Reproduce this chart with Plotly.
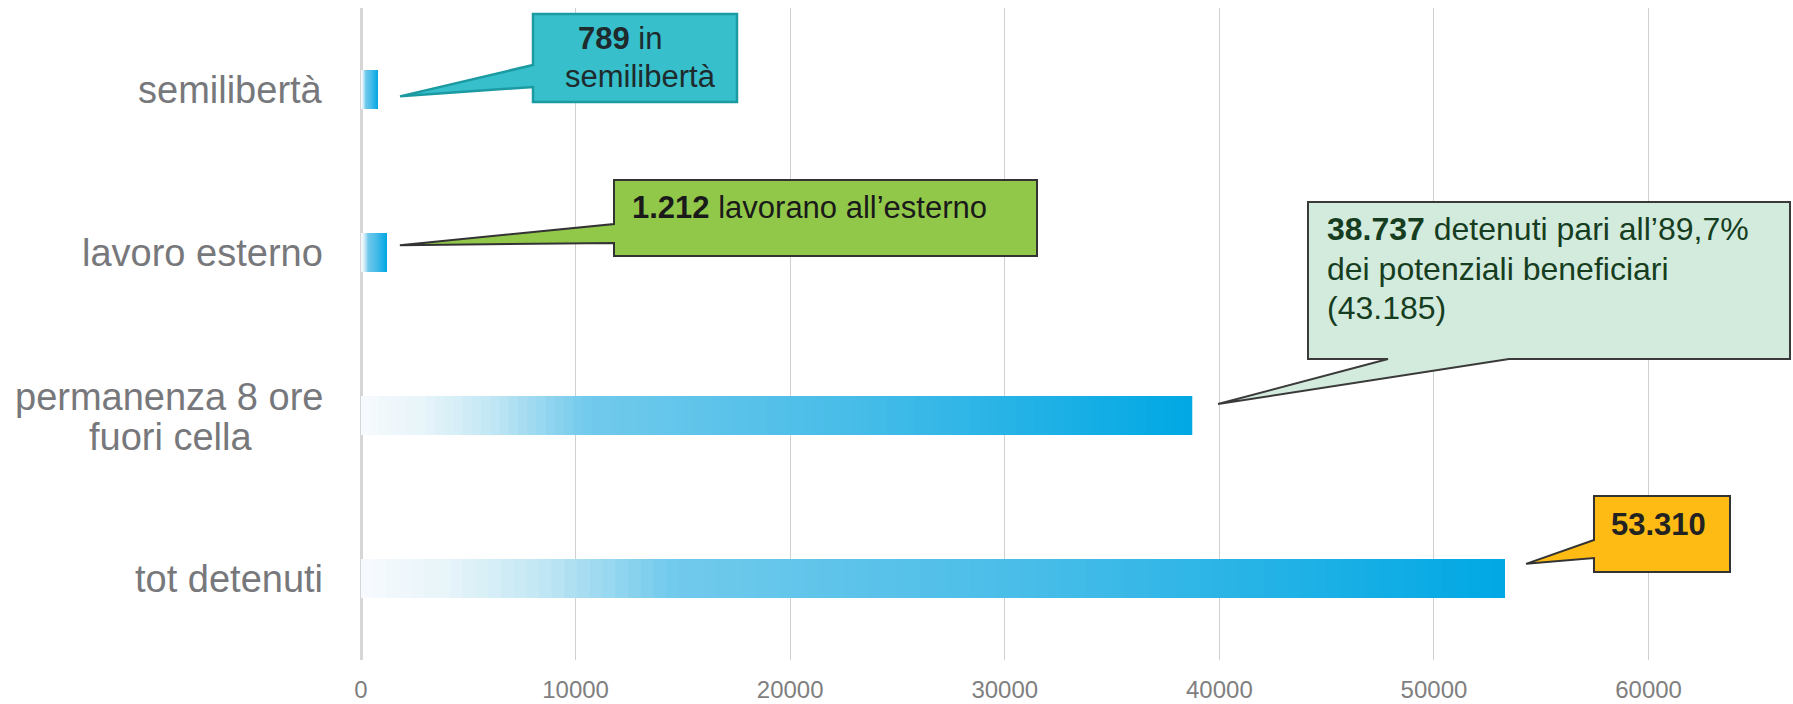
import plotly.graph_objects as go

# ---------------- data ----------------
categories = ["semilibertà", "lavoro esterno", "permanenza 8 ore fuori cella", "tot detenuti"]
values = [789, 1212, 38737, 53310]
x_ticks = [0, 10000, 20000, 30000, 40000, 50000, 60000]
potential_beneficiaries = 43185

# ---------------- layout constants ----------------
W, H = 1793, 704
L, R, T, B = 361, 0, 8, 44
PW, PH = W - L - R, H - T - B
XMAX = 66730
FONT = "Liberation Sans, Arial, sans-serif"


def X(px):
    return (px - L) / PW * XMAX


def Y(py):
    return (py - T) / PH * 4 - 0.5


# gradient stops (t along each bar, colour)
stops = [
    (0.00, (247, 250, 254)),
    (0.08, (230, 244, 249)),
    (0.16, (192, 230, 244)),
    (0.27, (114, 202, 236)),
    (0.60, (70, 188, 232)),
    (1.00, (0, 168, 228)),
]


def grad(t):
    for (t0, c0), (t1, c1) in zip(stops[:-1], stops[1:]):
        if t <= t1:
            f = (t - t0) / (t1 - t0)
            c = [round(a + (b - a) * f) for a, b in zip(c0, c1)]
            return "rgba(%d,%d,%d,0.999)" % tuple(c)
    return "rgba(%d,%d,%d,0.999)" % stops[-1][1]


fig = go.Figure()
N = 90
for k in range(N):
    frac = (N - k) / N
    fig.add_trace(go.Bar(
        y=categories,
        x=[v * frac for v in values],
        orientation="h",
        marker=dict(color=grad(frac - 0.5 / N), line=dict(width=0)),
        hoverinfo="skip",
        showlegend=False,
    ))

# ---------------- category labels ----------------
lab_font = dict(family=FONT, size=38, color="#77787B")
annotations = []
for i, c in enumerate(categories):
    if i == 2:
        continue
    annotations.append(dict(x=0, y=i, xref="x", yref="y", text=c, showarrow=False,
                            xanchor="right", yanchor="middle", xshift=-36, font=lab_font))
annotations.append(dict(x=0, y=2, xref="x", yref="y", text="permanenza 8 ore", showarrow=False,
                        xanchor="right", yanchor="middle", xshift=-36, yshift=19, font=lab_font))
annotations.append(dict(x=0, y=2, xref="x", yref="y", text="fuori cella", showarrow=False,
                        xanchor="center", yanchor="middle", xshift=-191, yshift=-21, font=lab_font))

# ---------------- callouts ----------------
shapes = []


def callout_left(box, tip, j0, j1, fill, line, lw=2):
    x0, x1, y0, y1 = box
    p = "M %f,%f L %f,%f L %f,%f L %f,%f L %f,%f L %f,%f L %f,%f Z" % (
        x0, y0, x1, y0, x1, y1, x0, y1, x0, j1, tip[0], tip[1], x0, j0)
    shapes.append(dict(type="path", path=p, xref="x", yref="y", fillcolor=fill,
                       line=dict(color=line, width=lw), layer="above"))


def callout_bottom(box, tip, j0, j1, fill, line, lw=2):
    x0, x1, y0, y1 = box
    p = "M %f,%f L %f,%f L %f,%f L %f,%f L %f,%f L %f,%f L %f,%f Z" % (
        x0, y0, x1, y0, x1, y1, j1, y1, tip[0], tip[1], j0, y1, x0, y1)
    shapes.append(dict(type="path", path=p, xref="x", yref="y", fillcolor=fill,
                       line=dict(color=line, width=lw), layer="above"))


# semilibertà
callout_left((X(533), X(737), Y(14), Y(102)), (values[0] + 1030, 0 + 0.042),
             Y(65), Y(87), "#37BFCB", "#1B9AA2", 2.5)
# lavoro esterno
callout_left((X(614), X(1037), Y(180), Y(256)), (values[1] + 600, 1 - 0.045),
             Y(224), Y(243), "#92C84A", "#333333", 2)
# permanenza
callout_bottom((X(1308), X(1790), Y(202), Y(359)), (values[2] + 1200, 2 - 0.07),
               X(1388), X(1509), "#D3EBDC", "#3A3A3A", 2)
# tot detenuti
callout_left((X(1594), X(1730), Y(496), Y(572)), (values[3] + 980, 3 - 0.09),
             Y(540), Y(558), "#FDBB14", "#333333", 2)


def fmt(v):
    return "{:,}".format(v).replace(",", ".")


cf = 31
annotations += [
    dict(x=X(620), y=Y(38), xref="x", yref="y", showarrow=False, xanchor="center", yanchor="middle",
         text="<b>%s</b> in" % fmt(values[0]), font=dict(family=FONT, size=cf, color="#1E2A2C")),
    dict(x=X(640), y=Y(76), xref="x", yref="y", showarrow=False, xanchor="center", yanchor="middle",
         text="semilibertà", font=dict(family=FONT, size=cf, color="#1E2A2C")),
    dict(x=X(630), y=Y(207), xref="x", yref="y", showarrow=False, xanchor="left", yanchor="middle",
         text="<b>%s</b> lavorano all’esterno" % fmt(values[1]),
         font=dict(family=FONT, size=cf, color="#1A1A1A")),
    dict(x=X(1325), y=Y(229), xref="x", yref="y", showarrow=False, xanchor="left", yanchor="middle",
         text="<b>%s</b> detenuti pari all’%s%%" % (fmt(values[2]),
                                                  ("%.1f" % (values[2] / potential_beneficiaries * 100)).replace(".", ",")),
         font=dict(family=FONT, size=32, color="#163D1F")),
    dict(x=X(1325), y=Y(269), xref="x", yref="y", showarrow=False, xanchor="left", yanchor="middle",
         text="dei potenziali beneficiari", font=dict(family=FONT, size=32, color="#163D1F")),
    dict(x=X(1325), y=Y(308), xref="x", yref="y", showarrow=False, xanchor="left", yanchor="middle",
         text="(%s)" % fmt(potential_beneficiaries), font=dict(family=FONT, size=32, color="#163D1F")),
    dict(x=X(1658), y=Y(524), xref="x", yref="y", showarrow=False, xanchor="center", yanchor="middle",
         text="<b>%s</b>" % fmt(values[3]), font=dict(family=FONT, size=cf, color="#222222")),
]

fig.update_layout(
    width=W, height=H, autosize=False,
    margin=dict(l=L, r=R, t=T, b=B, pad=0),
    paper_bgcolor="white", plot_bgcolor="white",
    barmode="overlay", bargap=1 - 39 / (PH / 4),
    xaxis=dict(range=[0, XMAX], tickvals=x_ticks, ticktext=[str(v) for v in x_ticks],
               showgrid=True, gridcolor="#D0D0D0", gridwidth=1.3,
               zeroline=True, zerolinecolor="#D6D6D6", zerolinewidth=3,
               showline=False, ticks="", ticklabelstandoff=13,
               tickfont=dict(family=FONT, size=24, color="#7F7F7F"), fixedrange=True),
    yaxis=dict(type="category", categoryarray=categories, categoryorder="array",
               range=[3.5, -0.5], showgrid=False, showticklabels=False, zeroline=False,
               showline=False, ticks="", fixedrange=True),
    shapes=shapes,
    annotations=annotations,
)

fig.write_html("out.html", config={"displayModeBar": False},
               post_script="document.body.style.margin='0';document.body.style.overflow='hidden';")
